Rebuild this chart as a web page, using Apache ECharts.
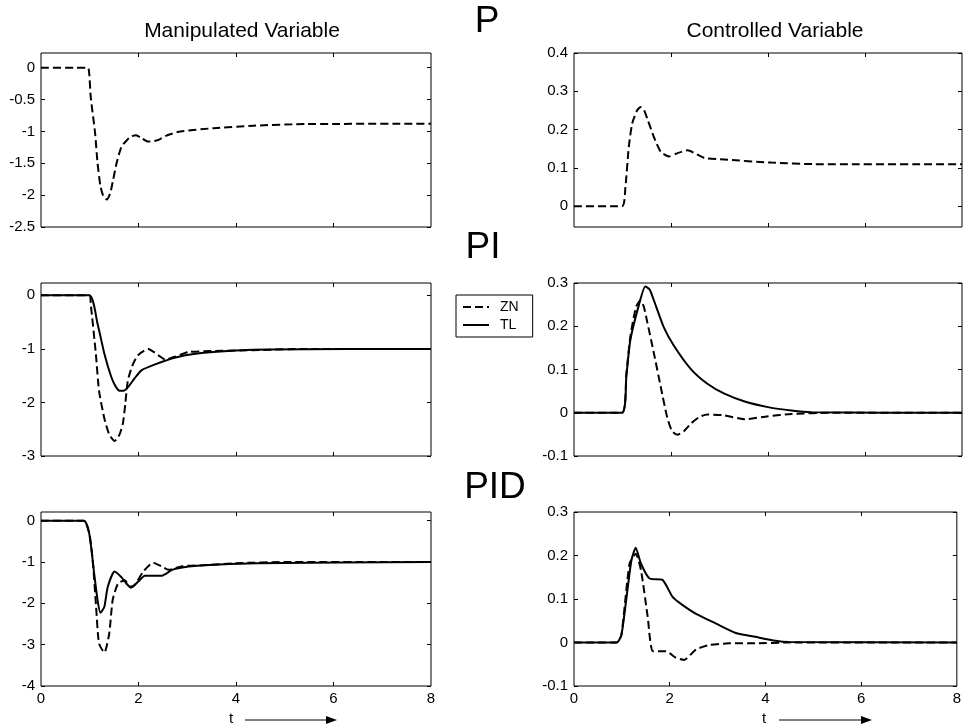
<!DOCTYPE html>
<html>
<head>
<meta charset="utf-8">
<script src="https://cdn.jsdelivr.net/npm/echarts@6/dist/echarts.min.js"></script>
<style>
html,body{margin:0;padding:0;background:#fff;}
#chart{width:964px;height:726px;}
</style>
</head>
<body>
<div id="chart"></div>
<script>
// ---------- data ----------
const xTicks = [0, 2, 4, 6, 8];

// P controller
const t_P_MV_ZN = [0, 0.96, 0.99, 1.02, 1.11, 1.16, 1.22, 1.28, 1.35, 1.42, 1.48, 1.55, 1.65, 1.76, 1.85, 1.95, 2.05, 2.19, 2.39, 2.59, 2.86, 3.54, 4.36, 5.45, 8];
const v_P_MV_ZN = [0, 0, -0.1, -0.46, -1.03, -1.5, -1.86, -2.02, -2.07, -1.97, -1.76, -1.5, -1.24, -1.14, -1.08, -1.06, -1.1, -1.16, -1.14, -1.06, -1.0, -0.95, -0.91, -0.885, -0.88];
const t_P_CV_ZN = [0, 0.99, 1.06, 1.13, 1.2, 1.3, 1.37, 1.44, 1.51, 1.65, 1.79, 1.96, 2.1, 2.34, 2.5, 2.69, 3.1, 4.07, 4.97, 8];
const v_P_CV_ZN = [0, 0, 0.05, 0.155, 0.216, 0.25, 0.259, 0.252, 0.229, 0.18, 0.142, 0.13, 0.137, 0.146, 0.138, 0.126, 0.122, 0.114, 0.11, 0.11];

// PI controller
const t_PI_MV_ZN = [0, 0.99, 1.02, 1.125, 1.19, 1.3, 1.4, 1.51, 1.61, 1.68, 1.73, 1.78, 1.87, 1.99, 2.2, 2.41, 2.55, 2.76, 3.03, 3.5, 4.5, 5.5, 8];
const v_PI_MV_ZN = [0, 0, -0.16, -1.09, -1.78, -2.3, -2.6, -2.72, -2.6, -2.39, -2.02, -1.6, -1.32, -1.12, -1.0, -1.12, -1.2, -1.14, -1.06, -1.04, -1.02, -1.0, -1.0];
const t_PI_MV_TL = [0, 0.99, 1.16, 1.3, 1.44, 1.53, 1.61, 1.7, 1.78, 1.92, 2.06, 2.34, 2.76, 3.17, 4.0, 4.7, 8];
const v_PI_MV_TL = [0, 0, -0.53, -1.09, -1.52, -1.7, -1.78, -1.78, -1.72, -1.55, -1.4, -1.29, -1.16, -1.09, -1.03, -1.01, -1.0];
const t_PI_CV_ZN = [0, 0.99, 1.08, 1.16, 1.28, 1.37, 1.44, 1.51, 1.65, 1.79, 1.92, 2.02, 2.13, 2.27, 2.41, 2.58, 2.75, 3.1, 3.52, 4.0, 4.48, 5.31, 8];
const v_PI_CV_ZN = [0, 0, 0.09, 0.175, 0.245, 0.26, 0.245, 0.21, 0.136, 0.059, -0.01, -0.042, -0.051, -0.042, -0.025, -0.01, -0.004, -0.006, -0.015, -0.008, -0.003, 0, 0];
const t_PI_CV_TL = [0, 0.99, 1.08, 1.16, 1.34, 1.47, 1.56, 1.65, 1.85, 2.06, 2.41, 2.75, 3.1, 3.52, 4.0, 4.48, 4.9, 8];
const v_PI_CV_TL = [0, 0, 0.085, 0.167, 0.25, 0.292, 0.285, 0.259, 0.198, 0.155, 0.101, 0.067, 0.044, 0.026, 0.013, 0.005, 0.001, 0];

// PID controller
const t_PID_MV_ZN = [0, 0.88, 0.99, 1.06, 1.13, 1.19, 1.3, 1.4, 1.47, 1.58, 1.72, 1.82, 1.92, 2.1, 2.3, 2.48, 2.62, 2.9, 3.31, 4.0, 5.0, 8];
const v_PID_MV_ZN = [0, 0, -0.31, -0.95, -2.08, -2.97, -3.19, -2.73, -1.92, -1.52, -1.44, -1.6, -1.56, -1.23, -1.02, -1.11, -1.19, -1.1, -1.08, -1.03, -1.0, -1.0];
const t_PID_MV_TL = [0, 0.88, 0.99, 1.09, 1.16, 1.22, 1.3, 1.37, 1.51, 1.65, 1.75, 1.85, 1.99, 2.13, 2.48, 2.69, 3.03, 3.66, 4.42, 8];
const v_PID_MV_TL = [0, 0, -0.31, -1.27, -1.92, -2.23, -2.08, -1.6, -1.23, -1.37, -1.52, -1.62, -1.48, -1.33, -1.33, -1.19, -1.11, -1.06, -1.03, -1.0];
const t_PID_CV_ZN = [0, 0.89, 0.99, 1.16, 1.29, 1.4, 1.54, 1.65, 1.92, 2.13, 2.3, 2.55, 2.82, 3.24, 3.79, 4.48, 8];
const v_PID_CV_ZN = [0, 0, 0.017, 0.181, 0.204, 0.166, 0.059, -0.02, -0.02, -0.035, -0.04, -0.016, -0.006, -0.002, -0.002, 0, 0];
const t_PID_CV_TL = [0, 0.89, 0.99, 1.09, 1.2, 1.29, 1.4, 1.58, 1.85, 2.06, 2.27, 2.55, 2.96, 3.38, 3.79, 4.21, 4.48, 8];
const v_PID_CV_TL = [0, 0, 0.017, 0.097, 0.189, 0.218, 0.181, 0.147, 0.144, 0.105, 0.086, 0.066, 0.044, 0.022, 0.013, 0.004, 0.001, 0];

// y tick labels per panel
const yTicks_P_MV = [-2.5, -2, -1.5, -1, -0.5, 0];
const yTicks_P_CV = [0, 0.1, 0.2, 0.3, 0.4];
const yTicks_PI_MV = [-3, -2, -1, 0];
const yTicks_PI_CV = [-0.1, 0, 0.1, 0.2, 0.3];
const yTicks_PID_MV = [-4, -3, -2, -1, 0];
const yTicks_PID_CV = [-0.1, 0, 0.1, 0.2, 0.3];

// ---------- layout ----------
const FONT = 'Liberation Sans, Arial, sans-serif';
const zip = (t, v) => t.map((x, i) => [x, v[i]]);

const panels = [
  {left: 41,  top: 53,  h: 174, ymin: -2.5,  ymax: 0.23, yt: yTicks_P_MV,   xl: false, s: [['ZN', t_P_MV_ZN, v_P_MV_ZN]]},
  {left: 574, top: 53,  h: 174, ymin: -0.054, ymax: 0.4, yt: yTicks_P_CV,   xl: false, s: [['ZN', t_P_CV_ZN, v_P_CV_ZN]]},
  {left: 41,  top: 283, h: 173, ymin: -3,    ymax: 0.23, yt: yTicks_PI_MV,  xl: false, s: [['ZN', t_PI_MV_ZN, v_PI_MV_ZN], ['TL', t_PI_MV_TL, v_PI_MV_TL]]},
  {left: 574, top: 283, h: 173, ymin: -0.1,  ymax: 0.3,  yt: yTicks_PI_CV,  xl: false, s: [['ZN', t_PI_CV_ZN, v_PI_CV_ZN], ['TL', t_PI_CV_TL, v_PI_CV_TL]]},
  {left: 41,  top: 512, h: 174, ymin: -4,    ymax: 0.21, yt: yTicks_PID_MV, xl: true,  s: [['ZN', t_PID_MV_ZN, v_PID_MV_ZN], ['TL', t_PID_MV_TL, v_PID_MV_TL]]},
  {left: 574, top: 512, h: 174, ymin: -0.1,  ymax: 0.3,  yt: yTicks_PID_CV, xl: true,  s: [['ZN', t_PID_CV_ZN, v_PID_CV_ZN], ['TL', t_PID_CV_TL, v_PID_CV_TL]]}
];

const grid = [], xAxis = [], yAxis = [], series = [];
const labelStyle = {color: '#000', fontFamily: FONT, fontSize: 15};
const noLine = {show: false, onZero: false};
panels.forEach((p, i) => {
  grid.push({left: p.left, top: p.top, width: p.left < 100 ? 390 : 388, height: p.h,
    show: true, borderColor: '#000', borderWidth: 1, backgroundColor: '#fff', containLabel: false});
  // bottom x
  xAxis.push({type: 'value', gridIndex: i, min: 0, max: 8, position: 'bottom',
    axisLine: noLine, splitLine: {show: false},
    axisTick: {show: true, inside: true, length: 4, customValues: [2, 4, 6], lineStyle: {color: '#000'}},
    axisLabel: {show: p.xl, customValues: xTicks, margin: 5, ...labelStyle}});
  // top x
  xAxis.push({type: 'value', gridIndex: i, min: 0, max: 8, position: 'top',
    axisLine: noLine, splitLine: {show: false},
    axisTick: {show: true, inside: true, length: 4, customValues: [2, 4, 6], lineStyle: {color: '#000'}},
    axisLabel: {show: false}});
  // left y
  yAxis.push({type: 'value', gridIndex: i, min: p.ymin, max: p.ymax, position: 'left',
    axisLine: noLine, splitLine: {show: false},
    axisTick: {show: true, inside: true, length: 4, customValues: p.yt, lineStyle: {color: '#000'}},
    axisLabel: {show: true, customValues: p.yt, margin: 6, ...labelStyle}});
  // right y
  yAxis.push({type: 'value', gridIndex: i, min: p.ymin, max: p.ymax, position: 'right',
    axisLine: noLine, splitLine: {show: false},
    axisTick: {show: true, inside: true, length: 4, customValues: p.yt, lineStyle: {color: '#000'}},
    axisLabel: {show: false}});
  p.s.forEach(([name, t, v]) => {
    series.push({name, type: 'line', xAxisIndex: 2 * i, yAxisIndex: 2 * i,
      data: zip(t, v), symbol: 'none', showSymbol: false, smooth: 0.2,
      lineStyle: {color: '#000', width: 2, type: name === 'ZN' ? [8, 4] : 'solid'},
      itemStyle: {color: '#000'}, silent: true, z: name === 'ZN' ? 3 : 2});
  });
});

const arrow = (tx, x1, x2, y) => [
  {type: 'text', left: tx, top: y - 9, style: {text: 't', fontFamily: FONT, fontSize: 15, fill: '#000'}},
  {type: 'line', shape: {x1: x1, y1: y, x2: x2 - 8, y2: y}, style: {stroke: '#000', lineWidth: 1}},
  {type: 'polygon', shape: {points: [[x2 - 11, y - 4], [x2, y], [x2 - 11, y + 4]]}, style: {fill: '#000'}}
];

const option = {
  animation: false,
  backgroundColor: '#fff',
  grid, xAxis, yAxis, series,
  legend: {
    data: ['ZN', 'TL'], orient: 'vertical', left: 456, top: 295,
    selectedMode: false, backgroundColor: '#fff', borderColor: '#000', borderWidth: 1,
    padding: [5, 14, 5, 6], itemWidth: 26, itemHeight: 14, itemGap: 4,
    itemStyle: {opacity: 0, borderWidth: 0},
    textStyle: {fontFamily: FONT, fontSize: 14, color: '#000', padding: [0, 0, 0, 6]}
  },
  graphic: [
    {type: 'text', x: 242, y: 31, style: {text: 'Manipulated Variable', fontFamily: FONT, fontSize: 21, fill: '#000', align: 'center', verticalAlign: 'middle'}},
    {type: 'text', x: 775, y: 31, style: {text: 'Controlled Variable', fontFamily: FONT, fontSize: 21, fill: '#000', align: 'center', verticalAlign: 'middle'}},
    {type: 'text', x: 487, y: 22, style: {text: 'P', fontFamily: FONT, fontSize: 37, fill: '#000', align: 'center', verticalAlign: 'middle'}},
    {type: 'text', x: 483, y: 248, style: {text: 'PI', fontFamily: FONT, fontSize: 37, fill: '#000', align: 'center', verticalAlign: 'middle'}},
    {type: 'text', x: 495, y: 488, style: {text: 'PID', fontFamily: FONT, fontSize: 37, fill: '#000', align: 'center', verticalAlign: 'middle'}},
    ...arrow(229, 245, 337, 720),
    ...arrow(762, 779, 872, 720)
  ]
};

const chart = echarts.init(document.getElementById('chart'), null, {renderer: 'canvas'});
chart.setOption(option);
</script>
</body>
</html>
